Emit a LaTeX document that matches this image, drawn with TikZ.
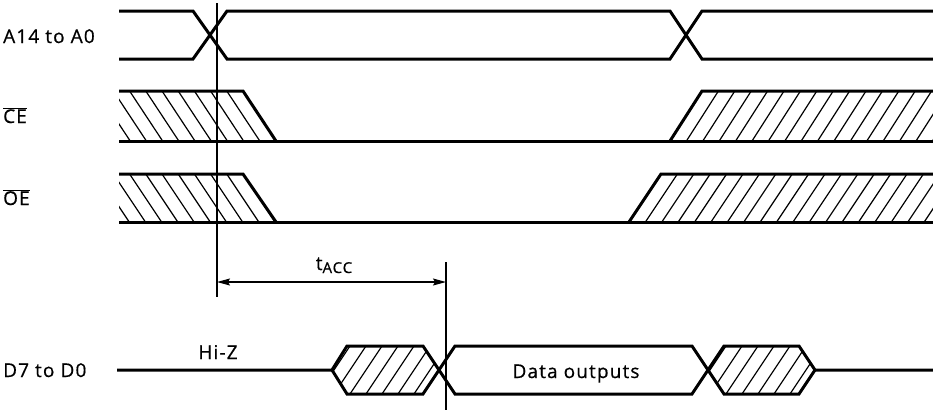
\documentclass[tikz,border=0pt]{standalone}
\usepackage{fontspec}
\setmainfont{Open Sans}[LetterSpace=6,FakeBold=0.6]
\usetikzlibrary{arrows.meta}
\begin{document}
\begin{tikzpicture}[x=1pt,y=-1pt,
  sig/.style={line width=3pt},
  hatchln/.style={line width=1.2pt},
  vline/.style={line width=1.5pt},
  dim/.style={line width=1.2pt,{Stealth[length=13pt,width=7pt,inset=2pt]}-{Stealth[length=13pt,width=7pt,inset=2pt]}},
  lbl/.style={anchor=base west,inner sep=0pt,font=\fontsize{19}{21}\selectfont},
  ctext/.style={anchor=base,inner sep=0pt,font=\fontsize{19}{21}\selectfont}]
\useasboundingbox (0,0) rectangle (933,413);

% ---- labels
\node[lbl] (la) at (3,43) {A14 to A0};
\node[lbl] (lce) at (3,123) {$\overline{\mbox{CE}}$};
\node[lbl] (loe) at (3,205) {$\overline{\mbox{OE}}$};
\node[lbl] (ld) at (3,377) {D7 to D0};
\node[ctext] (hiz) at (218,359) {Hi-Z};
\node[ctext] (dout) at (576,378) {Data outputs};
\node[ctext] (tacc) at (334,270) {t\raisebox{-3pt}{\fontsize{15}{15}\selectfont ACC}};

% ---- address row
\draw[sig] (119,11) -- (193,11) -- (227,59) -- (670,59) -- (702,11) -- (933,11);
\draw[sig] (119,59) -- (193,59) -- (227,11) -- (670,11) -- (702,59) -- (933,59);

% ---- CE row
\begin{scope}
  \clip (119,91) -- (243,91) -- (276,141) -- (119,141) -- cycle;
  \foreach \k in {0,...,10} \draw[hatchln] (243-16.2*\k,91) -- ++(33,50);
\end{scope}
\begin{scope}
  \clip (670,141) -- (702,91) -- (933,91) -- (933,141) -- cycle;
  \foreach \k in {0,...,16} \draw[hatchln] (670+16.4*\k,141) -- ++(32,-50);
\end{scope}
\draw[sig] (119,91) -- (243,91) -- (276,141);
\draw[sig] (119,141) -- (933,141);
\draw[sig] (670,141) -- (702,91) -- (933,91);

% ---- OE row
\begin{scope}
  \clip (119,174) -- (243,174) -- (276,222) -- (119,222) -- cycle;
  \foreach \k in {0,...,10} \draw[hatchln] (243-16.2*\k,174) -- ++(32,48);
\end{scope}
\begin{scope}
  \clip (629,222) -- (661,174) -- (933,174) -- (933,222) -- cycle;
  \foreach \k in {0,...,19} \draw[hatchln] (629+16.4*\k,222) -- ++(32,-48);
\end{scope}
\draw[sig] (119,174) -- (243,174) -- (276,222);
\draw[sig] (119,222) -- (933,222);
\draw[sig] (629,222) -- (661,174) -- (933,174);

% ---- data row
\begin{scope}
  \clip (332,370) -- (347,346) -- (423,346) -- (439,370) -- (423,394) -- (347,394) -- cycle;
  \foreach \k in {0,...,7} \draw[hatchln] (318+16*\k,394) -- ++(32,-48);
\end{scope}
\begin{scope}
  \clip (708,370) -- (724,346) -- (799,346) -- (815,370) -- (799,394) -- (724,394) -- cycle;
  \foreach \k in {0,...,7} \draw[hatchln] (694+16*\k,394) -- ++(32,-48);
\end{scope}
\draw[sig] (117,370) -- (332,370) -- (347,346) -- (423,346) -- (455,394) -- (692,394) -- (724,346) -- (799,346) -- (815,370) -- (933,370);
\draw[sig] (332,370) -- (347,394) -- (423,394) -- (455,346) -- (692,346) -- (724,394) -- (799,394) -- (815,370);

% ---- timing references
\coordinate (v1top) at (217,3);
\coordinate (v1bot) at (217,297);
\coordinate (v2top) at (446,262);
\coordinate (v2bot) at (446,410);
\coordinate (a1) at (217,282);
\coordinate (a2) at (446,282);
\draw[vline] (v1top) -- (v1bot);
\draw[vline] (v2top) -- (v2bot);
\draw[dim] (a1) -- (a2);
\end{tikzpicture}
\end{document}
